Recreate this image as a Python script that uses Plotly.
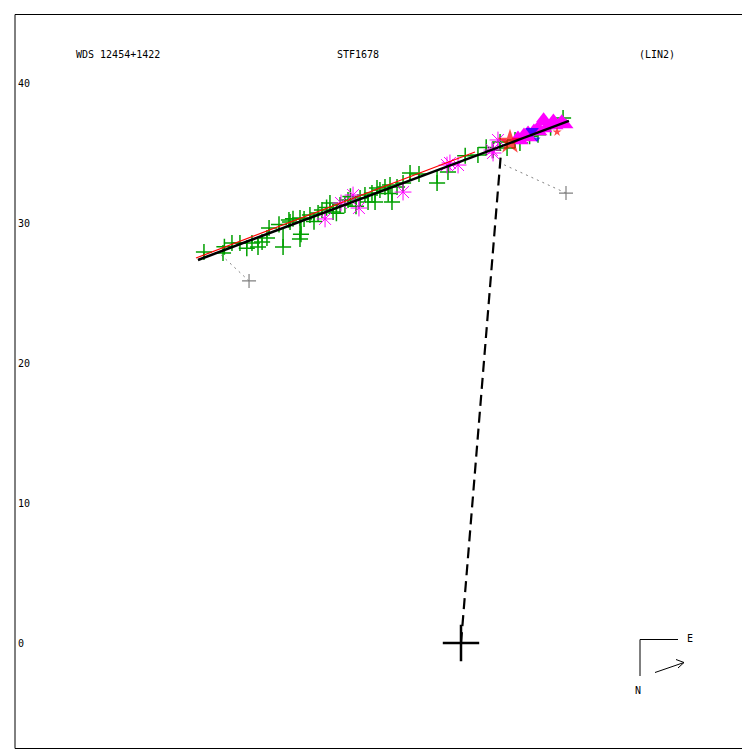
import plotly.graph_objects as go

# ---- data (arcsec) ----
ytick_vals = [40, 30, 20, 10, 0]
ytick_text = ["40", "30", "20", "10", "0"]

fit_x = [-18.79, 7.71]
fit_y = [27.36, 37.29]
fit2_x = [-18.93, 1.0]
fit2_y = [27.50, 35.07]

dash_x = [0.0, 2.86]
dash_y = [0.0, 35.07]

green_x = [-18.36, -17.0, -16.36, -15.79, -14.93, -14.5, -14.21, -13.71, -13.86, -12.71,
           -12.29, -12.21, -11.5, -11.43, -11.21, -11.5, -10.79, -10.21, -9.93, -9.36,
           -9.14, -8.64, -8.29, -8.07, -7.21, -6.86, -6.64, -6.36, -6.14, -5.79,
           -5.43, -5.07, -4.93, -4.57, -4.14, -3.64, -1.71, -0.93, 1.21, 2.79,
           3.29, 3.86, 4.21, 7.29, 2.3, 4.9, 5.5, 6.4,
           -13.0, -12.0, -10.5, -9.6, -8.9, -7.9, -7.5, -6.0, -5.2, -3.0, 0.3, 1.8, -15.3, -16.9]
green_y = [27.93, 27.86, 28.57, 28.57, 28.57, 28.29, 28.64, 29.64, 28.93, 28.29,
           30.21, 30.07, 28.86, 29.2, 30.29, 30.36, 30.57, 30.71, 30.93, 31.43,
           30.79, 31.29, 31.29, 31.64, 31.79, 32.0, 31.5, 32.14, 31.5, 32.36,
           32.57, 32.71, 31.5, 32.57, 32.86, 33.57, 32.86, 33.64, 34.86, 35.79,
           35.36, 35.93, 35.71, 37.5, 35.2, 36.2, 36.3, 36.8,
           29.9, 30.3, 30.1, 31.1, 30.7, 31.9, 31.2, 32.5, 32.1, 33.5, 34.8, 35.4, 28.2, 28.3]

ast_x = [-9.71, -8.57, -7.71, -7.29, -4.14, -1.0, -0.79, -0.21, 2.21, 2.64, 2.29]
ast_y = [30.29, 31.43, 32.0, 31.07, 32.21, 34.14, 34.29, 34.14, 35.21, 35.93, 35.0]

tri_x = [4.07, 4.5, 4.79, 5.21, 5.5, 5.86, 6.21, 6.5, 6.79, 7.07, 7.29, 7.5, 6.0, 5.64, 4.93, 4.29, 5.9, 6.6, 7.2]
tri_y = [36.14, 36.36, 36.5, 36.64, 36.86, 37.21, 36.93, 37.14, 36.93, 37.14, 37.07, 37.0, 36.71, 36.5, 36.07, 35.86, 37.45, 37.35, 37.3]

blue_x = [5.07, 5.43]
blue_y = [36.57, 36.0]
blue_s = [12, 6]

red_x = [3.5, 6.86]
red_y = [35.79, 36.5]
red_s = [19, 7]

gray_x = [-15.14, 7.5]
gray_y = [25.86, 32.14]
gray_px = [-17.21, 2.79]
gray_py = [27.79, 34.29]

title_left = "WDS 12454+1422"
title_mid = "STF1678"
title_right = "(LIN2)"

# ---- helpers ----
slope = (fit_y[1] - fit_y[0]) / (fit_x[1] - fit_x[0])


def line_y(x):
    return fit_y[0] + slope * (x - fit_x[0])


def oc_lines(xs, ys):
    lx, ly = [], []
    for x, y in zip(xs, ys):
        lx += [x, x, None]
        ly += [y, line_y(x), None]
    return lx, ly


GREEN = "#00a000"
MAG = "#ff00ff"
GRAY = "#808080"

fig = go.Figure()

gx, gy = oc_lines(green_x, green_y)
fig.add_trace(go.Scatter(x=gx, y=gy, mode="lines", line=dict(color=GREEN, width=1.5), hoverinfo="skip"))
ax_, ay_ = oc_lines(ast_x, ast_y)
fig.add_trace(go.Scatter(x=ax_, y=ay_, mode="lines", line=dict(color=MAG, width=1), hoverinfo="skip"))
glx, gly = [], []
for x, y, a, b in zip(gray_x, gray_y, gray_px, gray_py):
    glx += [x, a, None]
    gly += [y, b, None]
fig.add_trace(go.Scatter(x=glx, y=gly, mode="lines", line=dict(color=GRAY, width=1, dash="2px,4px"), hoverinfo="skip"))

fig.add_trace(go.Scatter(x=green_x, y=green_y, mode="markers",
                         marker=dict(symbol="cross-thin-open", size=11.5, color=GREEN, line=dict(color=GREEN, width=1.5))))
fig.add_trace(go.Scatter(x=gray_x, y=gray_y, mode="markers",
                         marker=dict(symbol="cross-thin-open", size=10, color=GRAY, line=dict(color=GRAY, width=1.2))))
fig.add_trace(go.Scatter(x=ast_x, y=ast_y, mode="markers",
                         marker=dict(symbol="asterisk-open", size=14, color=MAG, line=dict(color=MAG, width=1))))
fig.add_trace(go.Scatter(x=tri_x, y=tri_y, mode="markers",
                         marker=dict(symbol="triangle-up", size=13, color=MAG, line=dict(width=0))))
fig.add_trace(go.Scatter(x=blue_x, y=blue_y, mode="markers",
                         marker=dict(symbol="triangle-down", size=blue_s, color="#0000ff", line=dict(width=0))))
fig.add_trace(go.Scatter(x=red_x, y=red_y, mode="markers",
                         marker=dict(symbol="star", size=red_s, color="#ff0000", line=dict(width=0))))

fig.add_trace(go.Scatter(x=fit2_x, y=fit2_y, mode="lines", line=dict(color="#ff0000", width=1.2)))
fig.add_trace(go.Scatter(x=fit_x, y=fit_y, mode="lines", line=dict(color="#000000", width=2.5)))

fig.add_trace(go.Scatter(x=dash_x, y=dash_y, mode="lines", line=dict(color="#000000", width=2.2, dash="11px,6px")))

fig.add_trace(go.Scatter(x=[0], y=[0], mode="markers",
                         marker=dict(symbol="cross-thin-open", size=26, color="#000000",
                                     line=dict(color="#000000", width=2.5))))

W = 750.0
OFF = 8.0  # page body margin
xr = [(OFF - 461) / 14.0, (W + OFF - 461) / 14.0]
yr = [(643 - W - OFF) / 14.0, (643 - OFF) / 14.0]


def px(v):
    return (v - OFF) / W


def py(v):
    return 1 - (v - OFF) / W


shapes = [
    dict(type="rect", xref="paper", yref="paper", x0=px(15), x1=px(749.5), y0=py(748.5), y1=py(14.5),
         line=dict(color="black", width=1)),
    dict(type="path", xref="paper", yref="paper",
         path=f"M{px(640)},{py(676)} L{px(640)},{py(639.5)} L{px(678)},{py(639.5)}",
         line=dict(color="black", width=1)),
    dict(type="path", xref="paper", yref="paper",
         path=f"M{px(655)},{py(672.5)} L{px(684)},{py(662.5)} M{px(676)},{py(659.5)} L{px(684)},{py(662.5)} L{px(678)},{py(668)}",
         line=dict(color="black", width=1)),
]

font = dict(family="DejaVu Sans Mono", size=10, color="black")
annotations = [
    dict(text=title_left, x=px(74), y=py(55), xref="paper", yref="paper", xanchor="left", yanchor="middle", showarrow=False, font=font),
    dict(text=title_mid, x=px(335), y=py(55), xref="paper", yref="paper", xanchor="left", yanchor="middle", showarrow=False, font=font),
    dict(text=title_right, x=px(637), y=py(55), xref="paper", yref="paper", xanchor="left", yanchor="middle", showarrow=False, font=font),
    dict(text="E", x=px(685), y=py(638), xref="paper", yref="paper", xanchor="left", yanchor="middle", showarrow=False, font=font),
    dict(text="N", x=px(633), y=py(690), xref="paper", yref="paper", xanchor="left", yanchor="middle", showarrow=False, font=font),
]
for v, t in zip(ytick_vals, ytick_text):
    annotations.append(dict(text=t, x=px(16), y=v, xref="paper", yref="y", xanchor="left", yanchor="middle",
                            showarrow=False, font=font))

fig.update_layout(
    width=750, height=750,
    margin=dict(l=0, r=0, t=0, b=0),
    paper_bgcolor="white", plot_bgcolor="white",
    showlegend=False,
    xaxis=dict(range=xr, visible=False, fixedrange=True),
    yaxis=dict(range=yr, visible=False, fixedrange=True),
    shapes=shapes,
    annotations=annotations,
)

fig.write_html("out.html")
